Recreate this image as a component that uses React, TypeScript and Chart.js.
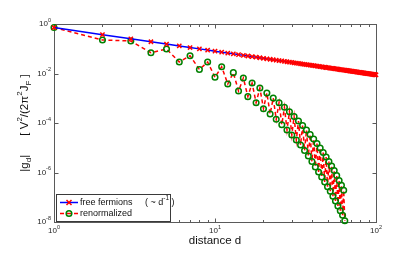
import React, { useEffect, useRef } from 'react';
import { Chart, registerables } from 'chart.js';

Chart.register(...registerables);

// ---------- data ----------
const distanceFree = [
  1, 2, 3, 4, 5, 6, 7, 8, 9, 10, 11, 12, 13, 14, 15, 16, 17, 18, 19, 20,
  21, 22, 23, 24, 25, 26, 27, 28, 29, 30, 31, 32, 33, 34, 35, 36, 37, 38, 39, 40,
  41, 42, 43, 44, 45, 46, 47, 48, 49, 50, 51, 52, 53, 54, 55, 56, 57, 58, 59, 60,
  61, 62, 63, 64, 65, 66, 67, 68, 69, 70, 71, 72, 73, 74, 75, 76, 77, 78, 79, 80,
  81, 82, 83, 84, 85, 86, 87, 88, 89, 90, 91, 92, 93, 94, 95, 96, 97, 98, 99, 100,
];
const freeFermions = [
  0.72, 0.371, 0.252, 0.192, 0.155, 0.130, 0.112, 0.0988, 0.0883, 0.0799,
  0.0729, 0.0671, 0.0622, 0.0579, 0.0542, 0.0510, 0.0481, 0.0456, 0.0433, 0.0412,
  0.0393, 0.0376, 0.0360, 0.0346, 0.0333, 0.0321, 0.0309, 0.0299, 0.0289, 0.0280,
  0.0271, 0.0263, 0.0255, 0.0248, 0.0241, 0.0235, 0.0229, 0.0223, 0.0218, 0.0212,
  0.0208, 0.0203, 0.0198, 0.0194, 0.0190, 0.0186, 0.0182, 0.0179, 0.0175, 0.0172,
  0.0168, 0.0165, 0.0162, 0.0160, 0.0157, 0.0154, 0.0152, 0.0149, 0.0147, 0.0144,
  0.0142, 0.0140, 0.0138, 0.0136, 0.0134, 0.0132, 0.0130, 0.0128, 0.0126, 0.0125,
  0.0123, 0.0121, 0.0120, 0.0118, 0.0117, 0.0115, 0.0114, 0.0112, 0.0111, 0.0110,
  0.0108, 0.0107, 0.0106, 0.0105, 0.0103, 0.0102, 0.0101, 0.0100, 0.0099, 0.0098,
  0.0097, 0.0096, 0.0095, 0.0094, 0.0093, 0.0092, 0.0091, 0.0090, 0.0089, 0.00886,
];
const distanceRenorm = [
  1, 2, 3, 4, 5, 6, 7, 8, 9, 10, 11, 12, 13, 14, 15, 16, 17, 18, 19, 20,
  21, 22, 23, 24, 25, 26, 27, 28, 29, 30, 31, 32, 33, 34, 35, 36, 37, 38, 39, 40,
  41, 42, 43, 44, 45, 46, 47, 48, 49, 50, 51, 52, 53, 54, 55, 56, 57, 58, 59, 60,
  61, 62, 63, 64,
];
const renormalized = [
  0.72, 0.226, 0.206, 0.0692, 0.0977, 0.0292, 0.0524, 0.0145, 0.0292, 0.00702,
  0.0188, 0.00377, 0.0108, 0.00196, 0.00658, 0.00116, 0.00413, 0.000661, 0.00259, 0.000378,
  0.00163, 0.000231, 0.00102, 0.000141, 0.000661, 8.53e-5, 0.000431, 5.21e-5, 0.000286, 3.27e-5,
  0.000183, 2.06e-5, 0.00012, 1.29e-5, 7.93e-5, 7.74e-6, 5.21e-5, 4.65e-6, 3.43e-5, 2.78e-6,
  2.26e-5, 1.67e-6, 1.49e-5, 1.05e-6, 9.77e-6, 6.58e-7, 6.43e-6, 4.13e-7, 4.23e-6, 2.67e-7,
  2.78e-6, 1.74e-7, 1.83e-6, 1.09e-7, 1.2e-6, 7.05e-8, 7.57e-7, 4.43e-8, 4.75e-7, 2.86e-8,
  3.04e-7, 1.87e-8, 1.91e-7, 1.13e-8,
];

const xMajorTicks = [1, 10, 100];
const xMajorExponents = ['0', '1', '2'];
const xMinorTicks = [2, 3, 4, 5, 6, 7, 8, 9, 20, 30, 40, 50, 60, 70, 80, 90];
const yMajorTicks = [1, 1e-2, 1e-4, 1e-6, 1e-8];
const yMajorExponents = ['0', '-2', '-4', '-6', '-8'];
const legendLabels = ['free fermions', 'renormalized'];
const xAxisTitle = 'distance d';

// ---------- styling helpers ----------
const FONT = '"Liberation Sans", Arial, Helvetica, sans-serif';

type Seg = { t: string; k?: 'sup' | 'sub' };

function segWidth(ctx: CanvasRenderingContext2D, segs: Seg[], size: number, small: number) {
  let w = 0;
  for (const s of segs) {
    ctx.font = `${s.k ? small : size}px ${FONT}`;
    w += ctx.measureText(s.t).width;
  }
  return w;
}

function drawSegs(
  ctx: CanvasRenderingContext2D,
  segs: Seg[],
  x: number,
  y: number,
  size: number,
  small: number,
  align: 'left' | 'center' | 'right'
) {
  const total = segWidth(ctx, segs, size, small);
  let cx = align === 'left' ? x : align === 'center' ? x - total / 2 : x - total;
  ctx.textAlign = 'left';
  ctx.textBaseline = 'middle';
  for (const s of segs) {
    ctx.font = `${s.k ? small : size}px ${FONT}`;
    let dy = 0;
    if (s.k === 'sup') dy = -size * 0.45;
    if (s.k === 'sub') dy = size * 0.3;
    ctx.fillText(s.t, cx, y + dy);
    cx += ctx.measureText(s.t).width;
  }
}

const axesPlugin = {
  id: 'matlabAxes',
  beforeDatasetsDraw(chart: any) {
    const { ctx, chartArea: a, scales } = chart;
    const xs = scales.x;
    const ys = scales.y;
    const L = Math.round(a.left) + 0.5;
    const R = Math.round(a.right) + 0.5;
    const T = Math.round(a.top) + 0.5;
    const B = Math.round(a.bottom) + 0.5;
    ctx.save();
    ctx.strokeStyle = '#5a5a5a';
    ctx.lineWidth = 1;
    ctx.strokeRect(L, T, R - L, B - T);

    ctx.beginPath();
    for (const v of xMajorTicks) {
      const px = Math.round(xs.getPixelForValue(v)) + 0.5;
      ctx.moveTo(px, B); ctx.lineTo(px, B - 4);
      ctx.moveTo(px, T); ctx.lineTo(px, T + 4);
    }
    for (const v of xMinorTicks) {
      const px = Math.round(xs.getPixelForValue(v)) + 0.5;
      ctx.moveTo(px, B); ctx.lineTo(px, B - 2.5);
      ctx.moveTo(px, T); ctx.lineTo(px, T + 2.5);
    }
    for (const v of yMajorTicks) {
      const py = Math.round(ys.getPixelForValue(v)) + 0.5;
      ctx.moveTo(L, py); ctx.lineTo(L + 4, py);
      ctx.moveTo(R, py); ctx.lineTo(R - 4, py);
    }
    ctx.stroke();

    ctx.fillStyle = '#262626';
    xMajorTicks.forEach((v, i) => {
      const px = xs.getPixelForValue(v);
      drawSegs(ctx, [{ t: '10' }, { t: xMajorExponents[i], k: 'sup' }], px, a.bottom + 9, 8, 5.5, 'center');
    });
    yMajorTicks.forEach((v, i) => {
      const py = ys.getPixelForValue(v);
      drawSegs(ctx, [{ t: '10' }, { t: yMajorExponents[i], k: 'sup' }], a.left - 3, py, 8, 5.5, 'right');
    });

    ctx.fillStyle = '#111';
    ctx.font = `11.5px ${FONT}`;
    ctx.textAlign = 'center';
    ctx.textBaseline = 'middle';
    ctx.fillText(xAxisTitle, (a.left + a.right) / 2, 241);

    ctx.save();
    ctx.translate(25, (a.top + a.bottom) / 2);
    ctx.rotate(-Math.PI / 2);
    drawSegs(
      ctx,
      [
        { t: '|g' }, { t: 'd', k: 'sub' }, { t: '|      [ V' }, { t: '2', k: 'sup' },
        { t: '/(2\u03c0' }, { t: '2', k: 'sup' }, { t: 'J' }, { t: 'F', k: 'sub' }, { t: ' ]' },
      ],
      0, 0, 11.5, 8, 'center'
    );
    ctx.restore();
    ctx.restore();
  },
  afterDraw(chart: any) {
    const { ctx } = chart;
    ctx.save();
    // legend box
    ctx.fillStyle = '#ffffff';
    ctx.fillRect(56.5, 194.5, 114, 27);
    ctx.strokeStyle = '#3a3a3a';
    ctx.lineWidth = 1;
    ctx.strokeRect(56.5, 194.5, 114, 27);

    const y1 = 202.5;
    const y2 = 213.5;
    // entry 1
    ctx.strokeStyle = '#0000ff';
    ctx.lineWidth = 1.5;
    ctx.beginPath(); ctx.moveTo(60, y1); ctx.lineTo(78, y1); ctx.stroke();
    ctx.strokeStyle = '#ff0000';
    ctx.beginPath();
    ctx.moveTo(66.5, y1 - 2.5); ctx.lineTo(71.5, y1 + 2.5);
    ctx.moveTo(71.5, y1 - 2.5); ctx.lineTo(66.5, y1 + 2.5);
    ctx.stroke();
    // entry 2
    ctx.strokeStyle = '#ff0000';
    ctx.setLineDash([4, 3]);
    ctx.beginPath(); ctx.moveTo(60, y2); ctx.lineTo(78, y2); ctx.stroke();
    ctx.setLineDash([]);
    ctx.strokeStyle = '#008000';
    ctx.beginPath(); ctx.arc(69, y2, 2.8, 0, Math.PI * 2); ctx.stroke();

    ctx.fillStyle = '#111';
    drawSegs(ctx, [{ t: legendLabels[0] + '     ( ~ d' }, { t: '-1', k: 'sup' }, { t: ' )' }], 80, y1, 9, 6.5, 'left');
    drawSegs(ctx, [{ t: legendLabels[1] }], 80, y2, 9, 6.5, 'left');
    ctx.restore();
  },
};

export default function App() {
  const ref = useRef<HTMLCanvasElement | null>(null);

  useEffect(() => {
    document.body.style.margin = '0';
    const canvas = ref.current;
    if (!canvas) return;
    const freePts = distanceFree.map((d, i) => ({ x: d, y: freeFermions[i] }));
    const renPts = distanceRenorm.map((d, i) => ({ x: d, y: renormalized[i] }));
    const chart = new Chart(canvas, {
      type: 'line',
      data: {
        datasets: [
          {
            label: legendLabels[0],
            data: freePts,
            borderColor: '#0000ff',
            borderWidth: 1.5,
            pointStyle: 'crossRot',
            pointRadius: 3,
            pointBorderColor: '#ff0000',
            pointBackgroundColor: '#ff0000',
            pointBorderWidth: 1.5,
            tension: 0,
            clip: false,
            order: 1,
          } as any,
          {
            label: legendLabels[1],
            data: renPts,
            borderColor: '#ff0000',
            borderWidth: 1.5,
            borderDash: [4, 3],
            pointStyle: 'circle',
            pointRadius: 2.8,
            pointBorderColor: '#008000',
            pointBackgroundColor: 'rgba(0,0,0,0)',
            pointBorderWidth: 1.5,
            tension: 0,
            clip: false,
            order: 2,
          } as any,
        ],
      },
      options: {
        animation: false,
        responsive: false,
        maintainAspectRatio: false,
        layout: { padding: { top: 24, right: 39, left: 0, bottom: 0 } },
        plugins: { legend: { display: false }, tooltip: { enabled: false } },
        scales: {
          x: {
            type: 'logarithmic',
            min: 1,
            max: 100,
            grid: { display: false },
            border: { display: false },
            ticks: { display: false },
            afterFit(s: any) { s.height = 33; },
          },
          y: {
            type: 'logarithmic',
            min: 1e-8,
            max: 1,
            grid: { display: false },
            border: { display: false },
            ticks: { display: false },
            afterFit(s: any) { s.width = 54; },
          },
        },
      } as any,
      plugins: [axesPlugin],
    });
    return () => chart.destroy();
  }, []);

  return (
    <div style={{ width: 415, height: 255, background: '#fff' }}>
      <canvas ref={ref} width={415} height={255} style={{ display: 'block' }} />
    </div>
  );
}
